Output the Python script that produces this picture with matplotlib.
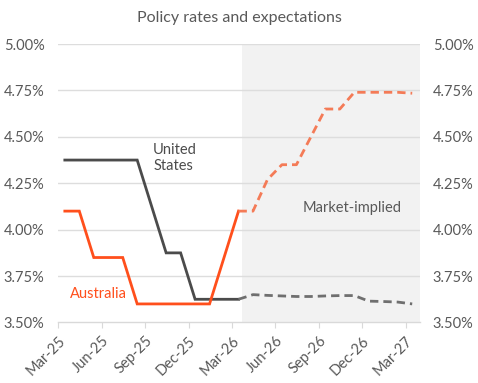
import matplotlib
matplotlib.use("Agg")
import matplotlib.pyplot as plt
from matplotlib.ticker import FuncFormatter

# ---- data (monthly, Mar-25 .. Mar-27) ----
months = ["Mar-25", "Apr-25", "May-25", "Jun-25", "Jul-25", "Aug-25", "Sep-25",
          "Oct-25", "Nov-25", "Dec-25", "Jan-26", "Feb-26", "Mar-26", "Apr-26",
          "May-26", "Jun-26", "Jul-26", "Aug-26", "Sep-26", "Oct-26", "Nov-26",
          "Dec-26", "Jan-27", "Feb-27", "Mar-27"]

# actual (Mar-25 .. Mar-26)
aus_actual = [4.10, 4.10, 3.85, 3.85, 3.85, 3.60, 3.60, 3.60, 3.60, 3.60, 3.60, 3.85, 4.10]
us_actual = [4.375, 4.375, 4.375, 4.375, 4.375, 4.375, 4.125, 3.875, 3.875, 3.625, 3.625, 3.625, 3.625]

# market-implied (Mar-26 .. Mar-27)
aus_implied = [4.10, 4.10, 4.27, 4.35, 4.35, 4.50, 4.65, 4.65, 4.74, 4.74, 4.74, 4.74, 4.735]
us_implied = [3.625, 3.650, 3.646, 3.643, 3.640, 3.640, 3.643, 3.645, 3.645, 3.615, 3.613, 3.610, 3.600]

tick_labels = ["Mar-25", "Jun-25", "Sep-25", "Dec-25", "Mar-26", "Jun-26", "Sep-26", "Dec-26", "Mar-27"]
y_ticks = [3.50, 3.75, 4.00, 4.25, 4.50, 4.75, 5.00]

plt.rcParams['font.family'] = ['Lato', 'DejaVu Sans']

TXT = "#595959"
ORANGE = "#FF4F1C"
ORANGE_L = "#F47B57"
GREY = "#4B4B4B"
GREY_L = "#6F6F6F"

fig = plt.figure(figsize=(4.78, 3.83), dpi=100)
ax = fig.add_axes([0.122, 0.158, 0.757, 0.727])

off = 0.45
n_act = len(aus_actual)
x_act = [i + off for i in range(n_act)]
x_imp = [n_act - 1 + i + off for i in range(len(aus_implied))]

ax.axvspan(12.7, 25.0, color="#F2F2F2", zorder=0, lw=0)

for yv in y_ticks[1:]:
    ax.axhline(yv, color="#DDDDDD", lw=1.0, zorder=1)

ax.plot(x_act, us_actual, color=GREY, lw=2.0, zorder=3, solid_joinstyle='miter')
ax.plot(x_act, aus_actual, color=ORANGE, lw=2.0, zorder=4, solid_joinstyle='miter')
ax.plot(x_imp, us_implied, color=GREY_L, lw=2.0, ls=(0, (3.0, 1.8)), zorder=3)
ax.plot(x_imp, aus_implied, color=ORANGE_L, lw=2.0, ls=(0, (3.0, 1.8)), zorder=4)

ax.set_xlim(0, 25.0)
ax.set_ylim(3.50, 5.00)

tick_pos = [months.index(m) for m in tick_labels]
ax.set_xticks(tick_pos)
ax.set_xticklabels(tick_labels, rotation=45, ha="right", rotation_mode="anchor",
                   color=TXT, fontsize=10.5)
ax.tick_params(axis="x", length=4, color="#D9D9D9", pad=4)

fmt = FuncFormatter(lambda v, p: f"{v:.2f}%")
ax.set_yticks(y_ticks)
ax.yaxis.set_major_formatter(fmt)
ax.tick_params(axis="y", length=0, pad=10, labelcolor=TXT, labelsize=10.5)

ax2 = ax.twinx()
ax2.set_ylim(ax.get_ylim())
ax2.set_yticks(y_ticks)
ax2.yaxis.set_major_formatter(fmt)
ax2.tick_params(axis="y", length=0, pad=9, labelcolor=TXT, labelsize=10.5)

for a in (ax, ax2):
    for s in ("top", "left", "right"):
        a.spines[s].set_visible(False)
    a.spines["bottom"].set_color("#D9D9D9")
    a.spines["bottom"].set_linewidth(1.0)
ax2.spines["bottom"].set_visible(False)

ax.text(6.55, 4.385, "United\nStates", color=GREY, fontsize=10.5, ha="left", va="center",
        linespacing=1.15)
ax.text(0.8, 3.655, "Australia", color=ORANGE, fontsize=10.5, ha="left", va="center")
ax.text(20.3, 4.115, "Market-implied", color=TXT, fontsize=10.5, ha="center", va="center")

fig.text(0.5, 0.952, "Policy rates and expectations", ha="center", va="center",
         color=TXT, fontsize=11.5)

fig.savefig("out.png", dpi=100, facecolor="white")
